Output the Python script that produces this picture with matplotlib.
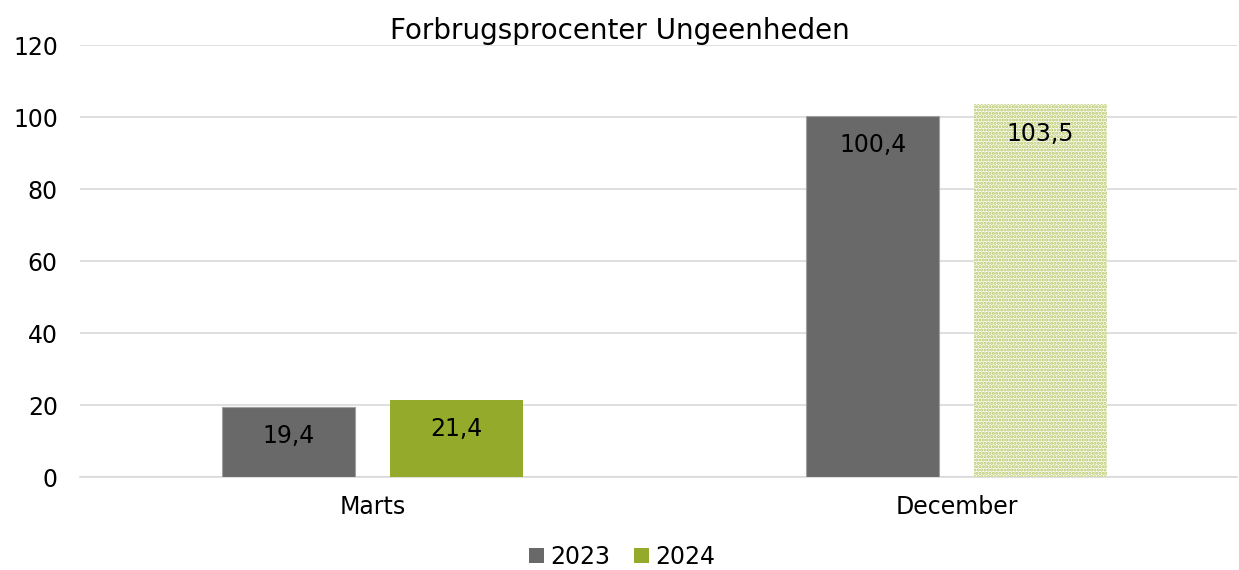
import numpy as np
import matplotlib.pyplot as plt
from matplotlib.patches import Patch

plt.rcParams['font.family'] = ['DejaVu Sans']
plt.rcParams['hatch.linewidth'] = 1.5

# data
categories = ['Marts', 'December']
vals_2023 = [19.4, 100.4]
vals_2024 = [21.4, 103.5]
labels_2023 = ['19,4', '100,4']
labels_2024 = ['21,4', '103,5']
yticks = [0, 20, 40, 60, 80, 100, 120]

grey = '#696969'
green = '#94aa2a'
dotgreen = '#b2c460'

fig = plt.figure(figsize=(12.39, 5.70), dpi=100)
ax = fig.add_axes([0.0646, 0.163, 0.934, 0.758])

x = np.arange(len(categories))
w = 0.227
off = 0.1436

b1 = ax.bar(x - off, vals_2023, w, color=grey, edgecolor='#a0a0a0', linewidth=0.8, zorder=3)
b2 = ax.bar(x + off, vals_2024, w, color=green, linewidth=0, zorder=3)

# december 2024 drawn dotted
b2[1].set_facecolor('#fbfcf4')
b2[1].set_edgecolor(dotgreen)
b2[1].set_hatch('.....')
b2[1].set_linewidth(0)

for bar, lab in zip(list(b1) + list(b2), labels_2023 + labels_2024):
    ax.annotate(lab, (bar.get_x() + bar.get_width() / 2, bar.get_height()),
                xytext=(0, -21), textcoords='offset points',
                ha='center', va='center', fontsize=17, color='black', zorder=5)

ax.set_ylim(0, 120)
ax.set_xlim(-0.5, 1.48)
ax.set_yticks(yticks)
ax.set_yticklabels([str(t) for t in yticks], fontsize=17)
ax.set_xticks(x)
ax.set_xticklabels(categories, fontsize=17)
ax.tick_params(axis='both', length=0)
ax.tick_params(axis='y', pad=16)
ax.tick_params(axis='x', pad=13)
ax.grid(axis='y', color='#d9d9d9', linewidth=1.2, zorder=0)
for s in ['top', 'left', 'right']:
    ax.spines[s].set_visible(False)
ax.spines['bottom'].set_color('#d9d9d9')
ax.spines['bottom'].set_linewidth(1.2)

fig.text(0.5, 0.945, 'Forbrugsprocenter Ungeenheden', ha='center', va='center', fontsize=20)

handles = [Patch(facecolor=grey, label='2023'), Patch(facecolor=green, label='2024')]
fig.legend(handles=handles, loc='center', bbox_to_anchor=(0.502, 0.023), ncol=2,
           frameon=False, fontsize=17, handlelength=0.65, handleheight=0.65,
           handletextpad=0.25, columnspacing=1.0)

fig.savefig('out.png', dpi=100)
